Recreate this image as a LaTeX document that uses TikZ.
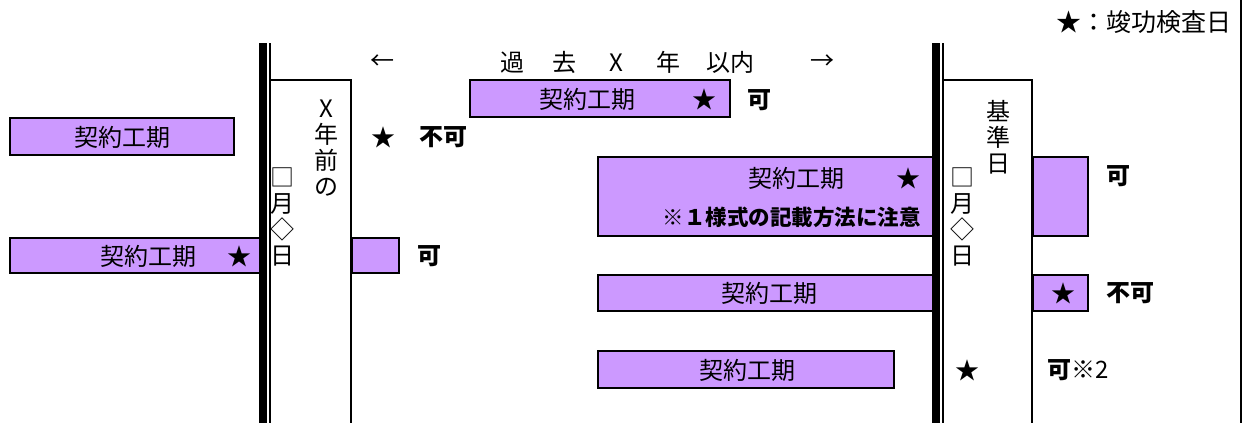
\documentclass[tikz,border=0pt]{standalone}
\usepackage{fontspec}
\setmainfont{Noto Sans CJK JP}
\definecolor{lilac}{RGB}{204,153,255}
\begin{document}
\begin{tikzpicture}[x=1pt,y=-1pt,
  pbox/.style={draw=black,line width=2pt,fill=lilac,inner sep=0pt,outer sep=0pt,rectangle},
  txt/.style={inner sep=0pt,font=\fontsize{24}{26}\selectfont},
  btxt/.style={inner sep=0pt,font=\fontsize{24}{26}\selectfont\bfseries},
  vtxt/.style={inner sep=0pt,align=center,font=\fontsize{24}{26}\selectfont},
  rule/.style={line width=2pt}]
\useasboundingbox (0,0) rectangle (1244,423);
% purple boxes
\node[pbox,minimum width=224pt,minimum height=37pt] (b1) at (122,136.5) {};
\node[pbox,minimum width=260pt,minimum height=37pt] (b2) at (600,98.5) {};
\node[pbox,minimum width=252pt,minimum height=35pt] (b3) at (136,255.5) {};
\node[pbox,minimum width=47pt,minimum height=35pt] (b3r) at (375.5,255.5) {};
\node[pbox,minimum width=338pt,minimum height=79pt] (b4) at (767,196.5) {};
\node[pbox,minimum width=55pt,minimum height=79pt] (b4r) at (1060.5,196.5) {};
\node[pbox,minimum width=338pt,minimum height=36pt] (b5) at (767,293) {};
\node[pbox,minimum width=55pt,minimum height=36pt] (b5r) at (1060.5,293) {};
\node[pbox,minimum width=296pt,minimum height=37pt] (b6) at (746,369.5) {};
% bars and date boxes
\coordinate (lb1) at (259,43); \coordinate (lb2) at (267,423);
\coordinate (rb1) at (932,43); \coordinate (rb2) at (940,423);
\fill (lb1) rectangle (lb2);
\fill (rb1) rectangle (rb2);
\coordinate (lt) at (270,43); \coordinate (lbot) at (270,423);
\coordinate (lc) at (351,80); \coordinate (lcb) at (351,423);
\draw[rule] (lt) -- (lbot);
\draw[rule] (270,80) -- (lc) -- (lcb);
\coordinate (rt) at (943,43); \coordinate (rbot) at (943,423);
\coordinate (rc) at (1032,80); \coordinate (rcb) at (1032,423);
\draw[rule] (rt) -- (rbot);
\draw[rule] (943,80) -- (rc) -- (rcb);
\coordinate (edge1) at (1240.5,0); \coordinate (edge2) at (1240.5,423);
\draw[rule] (edge1) -- (edge2);
% legend and header
\node[txt,anchor=east,font=\fontsize{25}{27}\selectfont] (legend) at (1232,22) {★：竣功検査日};
\node[txt] (larr) at (382,62) {←};
\node[txt,anchor=west] (head) at (486,62) {\makebox[52pt]{過}\makebox[52pt]{去}\makebox[52pt]{X}\makebox[52pt]{年}\makebox[72pt]{以内}};
\node[txt] (rarr) at (822,62) {→};
% vertical labels
\node[vtxt] (xnen) at (326,148.5) {X\\年\\前\\の};
\node[vtxt] (ldate) at (282,216.5) {□\\月\\◇\\日};
\node[vtxt] (kijun) at (998,137) {基\\準\\日};
\node[vtxt] (rdate) at (962,216.5) {□\\月\\◇\\日};
% box texts
\node[txt] (t1) at (122,137) {契約工期};
\node[txt] (s1) at (383,137) {★};
\node[btxt] (r1) at (443,137) {不可};
\node[txt] (t2) at (587,99) {契約工期};
\node[txt] (s2) at (704,99) {★};
\node[btxt] (r2) at (759,100) {可};
\node[txt] (t3) at (148,256) {契約工期};
\node[txt] (s3) at (239,256) {★};
\node[btxt] (r3) at (429,256) {可};
\node[txt] (t4) at (796,178) {契約工期};
\node[txt] (s4) at (908,178) {★};
\node[btxt,font=\fontsize{21.5}{23}\selectfont\bfseries,anchor=east] (n4) at (921,217) {※１様式の記載方法に注意};
\node[btxt] (r4) at (1118,176) {可};
\node[txt] (t5) at (769,293) {契約工期};
\node[txt] (s5) at (1063,293) {★};
\node[btxt] (r5) at (1130,293) {不可};
\node[txt] (t6) at (747,370) {契約工期};
\node[txt] (s6) at (967,370) {★};
\node[txt,anchor=west] (r6) at (1047,370) {{\bfseries 可}※2};
\end{tikzpicture}
\end{document}
